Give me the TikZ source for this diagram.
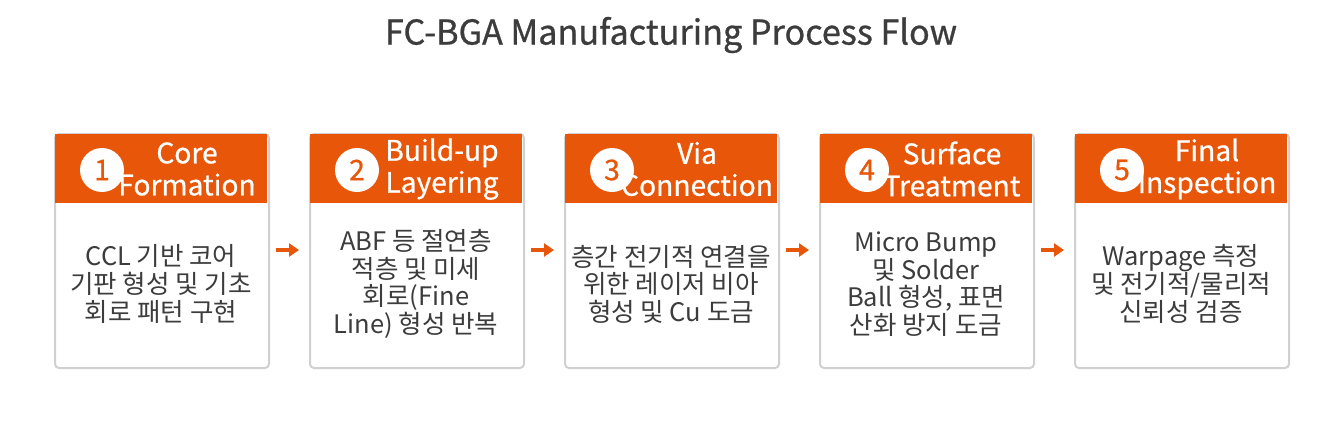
\documentclass[tikz,border=0pt]{standalone}
\usepackage{fontspec}
\setmainfont{Noto Sans CJK KR}
\newfontfamily\medfont[FakeBold=0.8]{Noto Sans CJK KR}
\newfontfamily\semifont[FakeBold=0.7]{Noto Sans CJK KR}
\usetikzlibrary{arrows.meta}
\definecolor{orng}{HTML}{E8560A}
\definecolor{txt}{HTML}{3C3C3C}
\definecolor{frame}{HTML}{D0D0D0}
\tikzset{
  stepbox/.style={draw=frame, line width=2pt, rounded corners=4pt, fill=white,
    minimum width=214pt, minimum height=234pt, anchor=north west, inner sep=0pt},
  headbar/.style={fill=orng, minimum width=212pt, minimum height=69pt, anchor=north west, inner sep=0pt},
  numcirc/.style={circle, fill=white, minimum size=44pt, inner sep=0pt, text=orng,
    font=\semifont\fontsize{28.5}{28.5}\selectfont},
  headtxt/.style={text=white, align=center, font=\semifont\fontsize{28.2}{32}\selectfont, inner sep=0pt},
  bodytxt/.style={text=txt, align=center, font=\fontsize{25.5}{27.6}\selectfont, inner sep=0pt},
  flow/.style={orng, line width=4pt, -{Triangle[length=10pt,width=13pt]}, shorten <=6pt, shorten >=10pt},
  titletxt/.style={text=txt, font=\medfont\fontsize{34.2}{38}\selectfont, inner sep=0pt}
}
\begin{document}
\begin{tikzpicture}[x=1pt,y=-1pt]
\useasboundingbox (0,0) rectangle (1341,424);
\node[titletxt] (title) at (671,35) {FC-BGA Manufacturing Process Flow};
\foreach \i/\ha/\hb/\body in {
  1/Core/Formation/{CCL 기반 코어\\기판 형성 및 기초\\회로 패턴 구현},
  2/Build-up/Layering/{ABF 등 절연층\\적층 및 미세\\회로(Fine\\Line) 형성 반복},
  3/Via/Connection/{층간 전기적 연결을\\위한 레이저 비아\\형성 및 Cu 도금},
  4/Surface/Treatment/{Micro Bump\\및 Solder\\Ball 형성, 표면\\산화 방지 도금},
  5/Final/Inspection/{Warpage 측정\\및 전기적/물리적\\신뢰성 검증}}{
  \pgfmathsetmacro{\L}{54+(\i-1)*255}
  \node[stepbox] (b\i) at (\L,133) {};
  \node[headbar] (h\i) at (\L+1,134) {};
  \node[headtxt] (t\i) at (\L+133,169) {\ha\\\hb};
  \node[numcirc] (c\i) at (\L+48,170) {\i};
  \node[bodytxt] (d\i) at (\L+107,284) {\body};
}
\foreach \a/\b in {1/2,2/3,3/4,4/5}{
  \draw[flow] (b\a.east |- 0,250) -- (b\b.west |- 0,250);
}
\end{tikzpicture}
\end{document}
